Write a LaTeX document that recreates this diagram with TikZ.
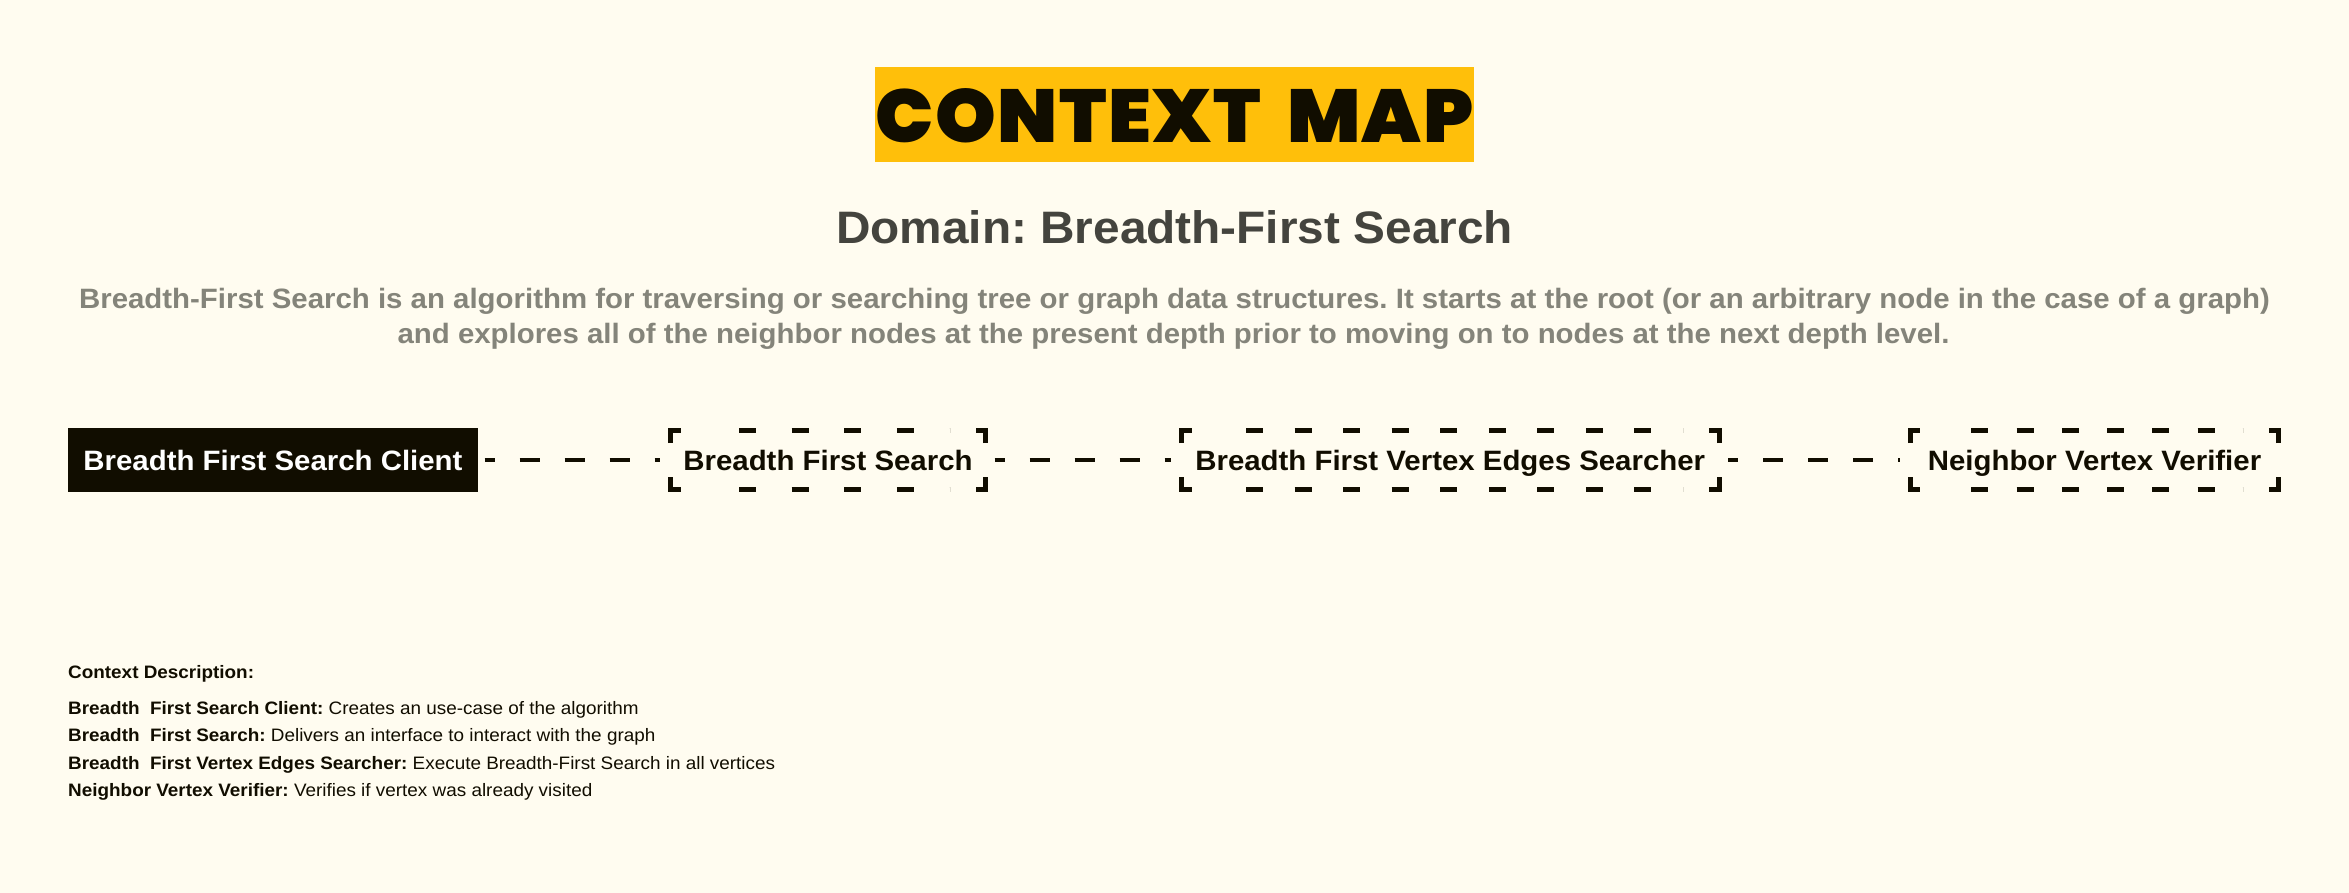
\documentclass[tikz,border=0pt]{standalone}
\usepackage{fontspec}
\setmainfont{Liberation Sans}[FakeStretch=1.05]
\IfFontExistsTF{Poppins Black}
  {\newfontfamily\titlefont{Poppins Black}[LetterSpace=2,FakeStretch=1.03]}
  {\newfontfamily\titlefont{Poppins}[FakeBold=1.5,FakeStretch=1.08]}
\usepackage{xcolor}
\usetikzlibrary{positioning,decorations}
\definecolor{pagebg}{HTML}{FFFCF0}
\definecolor{titlec}{HTML}{FFBF0A}
\definecolor{inkc}{HTML}{110D00}
\definecolor{domc}{HTML}{44443E}
\definecolor{descc}{HTML}{84847A}
\tikzset{
  ctxbox/.style={line width=5pt,outer sep=0pt,minimum height=59pt,inner sep=0pt,text height=20pt,text depth=0pt,font=\fontsize{28}{32}\selectfont\bfseries,text=inkc},
  clientbox/.style={ctxbox,draw=inkc,fill=inkc,minimum width=405pt,text=white},
  frame/.style={inkc,line width=5pt},
  dashes/.style={dash pattern=on 17pt off 28pt,dash expand off},
  link/.style={inkc,line width=4.5pt,dash pattern=on 20pt off 25pt,dash phase=10pt},
  note/.style={anchor=base west,inner sep=0pt,font=\fontsize{18}{20}\selectfont,text=inkc},
  about/.style={anchor=base,inner sep=0pt,font=\fontsize{28}{34}\selectfont\bfseries,text=descc}
}
\begin{document}
\frenchspacing
\begin{tikzpicture}[x=1pt,y=-1pt]
\fill[pagebg] (0,0) rectangle (2349,893);
\useasboundingbox (0,0) rectangle (2349,893);
% title block
\node[fill=titlec,minimum width=599pt,minimum height=95pt,inner sep=0pt,text height=57pt,text depth=0pt,font=\titlefont\fontsize{75}{80}\selectfont,text=inkc] (title) at (1174.5,114.5) {CONTEXT\hspace{26pt}MAP};
\node[anchor=base,inner sep=0pt,font=\fontsize{45.5}{50}\selectfont\bfseries,text=domc] (domain) at (1174.5,243.3) {Domain: Breadth-First Search};
\node[about] (about1) at (1174.5,308.3) {Breadth-First Search is an algorithm for traversing or searching tree or graph data structures. It starts at the root (or an arbitrary node in the case of a graph)};
\node[about] (about2) at (1173.5,343) {and explores all of the neighbor nodes at the present depth prior to moving on to nodes at the next depth level.};
% contexts
\node[clientbox] (client) at (273,460) {Breadth First Search Client};
\node[ctxbox,minimum width=315pt] (bfs) at (828,460) {Breadth First Search};
\node[ctxbox,minimum width=537.5pt] (bfves) at (1450.25,460) {Breadth First Vertex Edges Searcher};
\node[ctxbox,minimum width=368.5pt] (nvv) at (2094.5,460) {Neighbor Vertex Verifier};
\foreach \n in {bfs,bfves,nvv}{
  \draw[frame] ([yshift=-12.5pt]\n.north west) |- ([xshift=10pt]\n.north west);
  \draw[frame] ([yshift=-12.5pt]\n.north east) |- ([xshift=-10pt]\n.north east);
  \draw[frame] ([yshift=12.5pt]\n.south west) |- ([xshift=10pt]\n.south west);
  \draw[frame] ([yshift=12.5pt]\n.south east) |- ([xshift=-10pt]\n.south east);
  \draw[frame,dashes] ([xshift=33pt]\n.north west) -- ([xshift=-36pt]\n.north east);
  \draw[frame,dashes] ([xshift=33pt]\n.south west) -- ([xshift=-36pt]\n.south east);
}
\draw[link] ([xshift=9pt]client.east) -- ([xshift=-10.5pt]bfs.west);
\draw[link] ([xshift=9pt]bfs.east) -- ([xshift=-10.5pt]bfves.west);
\draw[link] ([xshift=9pt]bfves.east) -- ([xshift=-10.5pt]nvv.west);
% description
\node[note] (deschead) at (68,678.3) {\bfseries Context Description:};
\node[note] (d1) at (68,714) {\textbf{Breadth\ \ First Search Client:} Creates an use-case of the algorithm};
\node[note] (d2) at (68,741.5) {\textbf{Breadth\ \ First Search:} Delivers an interface to interact with the graph};
\node[note] (d3) at (68,769) {\textbf{Breadth\ \ First Vertex Edges Searcher:} Execute Breadth-First Search in all vertices};
\node[note] (d4) at (68,796.5) {\textbf{Neighbor Vertex Verifier:} Verifies if vertex was already visited};
\end{tikzpicture}
\end{document}
